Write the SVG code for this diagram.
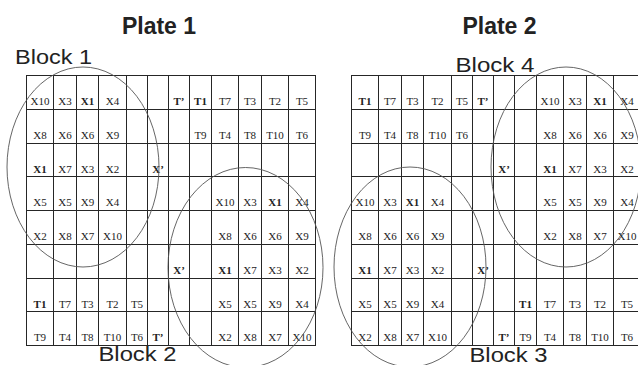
<svg xmlns="http://www.w3.org/2000/svg" xmlns:xlink="http://www.w3.org/1999/xlink" width="638" height="365" viewBox="0 0 638 365">
<style>
.grid{fill:none;stroke:#262626;stroke-width:1}
.t{font-family:"Liberation Serif","Times New Roman",serif;font-size:11px;text-anchor:middle;fill:#222}
.b{font-weight:bold}
.title{font-family:"Liberation Sans",Arial,sans-serif;font-weight:bold;font-size:23px;text-anchor:middle;fill:#222}
.blk{font-family:"Liberation Sans",Arial,sans-serif;font-size:21px;fill:#222}
.ell{fill:none;stroke:#555;stroke-width:0.9}
</style>
<defs>
<path id="gridpath" d="M26.5 75.5H315.5M26.5 109.5H315.5M26.5 143.5H315.5M26.5 176.5H315.5M26.5 210.5H315.5M26.5 244.5H315.5M26.5 278.5H315.5M26.5 311.5H315.5M26.5 345.5H315.5M26.5 75V346M53.5 75V346M76.5 75V346M98.5 75V346M126.5 75V346M147.5 75V346M168.5 75V346M189.5 75V346M211.5 75V346M238.5 75V346M261.5 75V346M288.5 75V346M315.5 75V346"/>
</defs>
<rect width="638" height="365" fill="#fff"/>

<g id="plate1">
<use xlink:href="#gridpath" href="#gridpath" class="grid"/>
<g class="t">
<text x="40" y="105">X10</text><text x="65" y="105">X3</text><text x="87.5" y="105" class="b">X1</text><text x="112.5" y="105">X4</text><text x="179" y="105" class="b">T’</text><text x="200.5" y="105" class="b">T1</text><text x="225" y="105">T7</text><text x="250" y="105">T3</text><text x="275" y="105">T2</text><text x="302" y="105">T5</text>
<text x="40" y="139">X8</text><text x="65" y="139">X6</text><text x="87.5" y="139">X6</text><text x="112.5" y="139">X9</text><text x="200.5" y="139">T9</text><text x="225" y="139">T4</text><text x="250" y="139">T8</text><text x="275" y="139">T10</text><text x="302" y="139">T6</text>
<text x="40" y="172.5" class="b">X1</text><text x="65" y="172.5">X7</text><text x="87.5" y="172.5">X3</text><text x="112.5" y="172.5">X2</text><text x="158" y="172.5" class="b">X’</text>
<text x="40" y="206">X5</text><text x="65" y="206">X5</text><text x="87.5" y="206">X9</text><text x="112.5" y="206">X4</text><text x="225" y="206">X10</text><text x="250" y="206">X3</text><text x="275" y="206" class="b">X1</text><text x="302" y="206">X4</text>
<text x="40" y="240">X2</text><text x="65" y="240">X8</text><text x="87.5" y="240">X7</text><text x="112.5" y="240">X10</text><text x="225" y="240">X8</text><text x="250" y="240">X6</text><text x="275" y="240">X6</text><text x="302" y="240">X9</text>
<text x="179" y="274" class="b">X’</text><text x="225" y="274" class="b">X1</text><text x="250" y="274">X7</text><text x="275" y="274">X3</text><text x="302" y="274">X2</text>
<text x="40" y="307.5" class="b">T1</text><text x="65" y="307.5">T7</text><text x="87.5" y="307.5">T3</text><text x="112.5" y="307.5">T2</text><text x="137" y="307.5">T5</text><text x="225" y="307.5">X5</text><text x="250" y="307.5">X5</text><text x="275" y="307.5">X9</text><text x="302" y="307.5">X4</text>
<text x="40" y="341">T9</text><text x="65" y="341">T4</text><text x="87.5" y="341">T8</text><text x="112.5" y="341">T10</text><text x="137" y="341">T6</text><text x="158" y="341" class="b">T’</text><text x="225" y="341">X2</text><text x="250" y="341">X8</text><text x="275" y="341">X7</text><text x="302" y="341">X10</text>
</g>
</g>

<g id="plate2" transform="translate(325,0)">
<use xlink:href="#gridpath" href="#gridpath" class="grid"/>
<g class="t">
<text x="40" y="105" class="b">T1</text><text x="65" y="105">T7</text><text x="87.5" y="105">T3</text><text x="112.5" y="105">T2</text><text x="137" y="105">T5</text><text x="158" y="105" class="b">T’</text><text x="225" y="105">X10</text><text x="250" y="105">X3</text><text x="275" y="105" class="b">X1</text><text x="302" y="105">X4</text>
<text x="40" y="139">T9</text><text x="65" y="139">T4</text><text x="87.5" y="139">T8</text><text x="112.5" y="139">T10</text><text x="137" y="139">T6</text><text x="225" y="139">X8</text><text x="250" y="139">X6</text><text x="275" y="139">X6</text><text x="302" y="139">X9</text>
<text x="179" y="172.5" class="b">X’</text><text x="225" y="172.5" class="b">X1</text><text x="250" y="172.5">X7</text><text x="275" y="172.5">X3</text><text x="302" y="172.5">X2</text>
<text x="40" y="206">X10</text><text x="65" y="206">X3</text><text x="87.5" y="206" class="b">X1</text><text x="112.5" y="206">X4</text><text x="225" y="206">X5</text><text x="250" y="206">X5</text><text x="275" y="206">X9</text><text x="302" y="206">X4</text>
<text x="40" y="240">X8</text><text x="65" y="240">X6</text><text x="87.5" y="240">X6</text><text x="112.5" y="240">X9</text><text x="225" y="240">X2</text><text x="250" y="240">X8</text><text x="275" y="240">X7</text><text x="302" y="240">X10</text>
<text x="40" y="274" class="b">X1</text><text x="65" y="274">X7</text><text x="87.5" y="274">X3</text><text x="112.5" y="274">X2</text><text x="158" y="274" class="b">X’</text>
<text x="40" y="307.5">X5</text><text x="65" y="307.5">X5</text><text x="87.5" y="307.5">X9</text><text x="112.5" y="307.5">X4</text><text x="200.5" y="307.5" class="b">T1</text><text x="225" y="307.5">T7</text><text x="250" y="307.5">T3</text><text x="275" y="307.5">T2</text><text x="302" y="307.5">T5</text>
<text x="40" y="341">X2</text><text x="65" y="341">X8</text><text x="87.5" y="341">X7</text><text x="112.5" y="341">X10</text><text x="179" y="341" class="b">T’</text><text x="200.5" y="341">T9</text><text x="225" y="341">T4</text><text x="250" y="341">T8</text><text x="275" y="341">T10</text><text x="302" y="341">T6</text>
</g>
</g>

<g id="titles">
<text class="title" x="159" y="34">Plate 1</text>
<text class="title" x="499.5" y="34">Plate 2</text>
</g>

<g id="block1"><ellipse class="ell" cx="83" cy="167" rx="76" ry="100"/><text class="blk" x="15" y="63.5" textLength="77" lengthAdjust="spacingAndGlyphs">Block 1</text></g>
<g id="block2"><ellipse class="ell" cx="245.5" cy="267.5" rx="77.5" ry="100"/><text class="blk" x="98.5" y="361" textLength="78" lengthAdjust="spacingAndGlyphs">Block 2</text></g>
<g id="block3"><ellipse class="ell" cx="410" cy="267" rx="76" ry="100"/><text class="blk" x="469.5" y="361.5" textLength="78" lengthAdjust="spacingAndGlyphs">Block 3</text></g>
<g id="block4"><ellipse class="ell" cx="566" cy="167" rx="75" ry="100"/><text class="blk" x="455.5" y="71.5" textLength="79" lengthAdjust="spacingAndGlyphs">Block 4</text></g>
</svg>
